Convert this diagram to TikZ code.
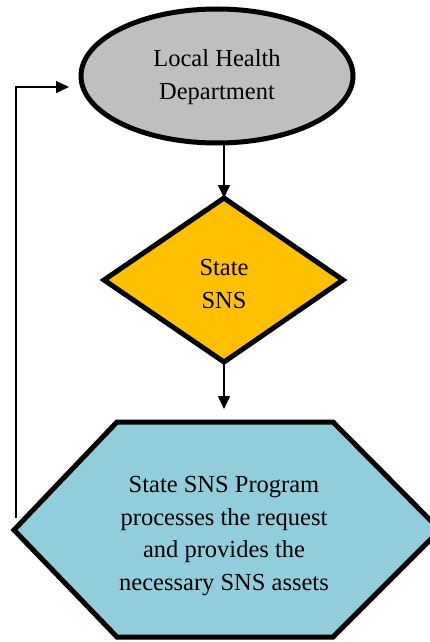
\documentclass[tikz,border=0pt]{standalone}
\usepackage{fontspec}
\setmainfont{Liberation Serif}
\usetikzlibrary{shapes.geometric,arrows.meta}
\definecolor{ldgray}{HTML}{BFBFBF}
\definecolor{snsgold}{HTML}{FFC000}
\definecolor{progblue}{HTML}{92CDDC}
\begin{document}
\begin{tikzpicture}[x=1pt,y=-1pt,
  shapeline/.style={draw=black,line width=5pt,line join=miter},
  label/.style={font=\fontsize{24.5}{32.5}\selectfont,align=center,text=black},
  flow/.style={draw=black,line width=1.6pt,-{Triangle[width=12pt,length=13pt]}},
  loopline/.style={draw=black,line width=1.3pt,-{Triangle[width=12pt,length=13pt]}}]
  \useasboundingbox (0,0) rectangle (429,642);
  % local health department (ellipse)
  \node[shapeline,ellipse,fill=ldgray,minimum width=272pt,minimum height=134pt,inner sep=0pt] (ldh) at (217,76) {};
  \node[label] (ldhtext) at (217,77) {Local Health\\Department};
  % state SNS decision (diamond)
  \draw[shapeline,fill=snsgold] (224,198) -- (343,280) -- (224,362) -- (104,280) -- cycle;
  \coordinate (dtop) at (224,198);
  \coordinate (dbot) at (224,362);
  \node[label] (snstext) at (224,284) {State\\SNS};
  % state SNS program (hexagon)
  \draw[shapeline,fill=progblue] (117,422) -- (333,422) -- (440,530) -- (333,637) -- (117,637) -- (14,530) -- cycle;
  \coordinate (htop) at (224,422);
  \node[label] (progtext) at (224,536) {State SNS Program\\processes the request\\and provides the\\necessary SNS assets};
  % connectors
  \coordinate (ebot) at (224,143);
  \draw[flow] (ebot) -- (dtop);
  \draw[flow] (dbot) -- (224,409);
  \coordinate (loopstart) at (16,518);
  \coordinate (looptip) at (69,87);
  \draw[loopline] (loopstart) |- (looptip);
\end{tikzpicture}
\end{document}
